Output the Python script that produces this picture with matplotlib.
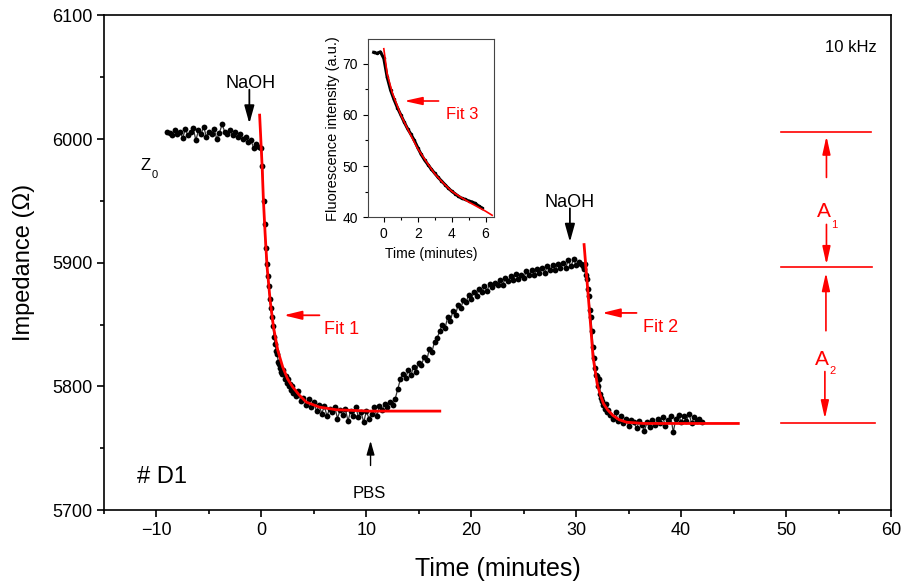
import numpy as np
import matplotlib
matplotlib.use("Agg")
import matplotlib.pyplot as plt
from matplotlib.ticker import MultipleLocator

plt.rcParams['font.family'] = ['Liberation Sans', 'DejaVu Sans']
plt.rcParams['mathtext.default'] = 'regular'

# =============================================================================
# Data
# =============================================================================

# impedance trace, in segments: (start time, step, values)
seg1_t0, seg1_dt = -9.0, 0.25
seg1_z = [6006, 6005, 6003, 6007, 6004, 6006, 6001, 6008, 6003, 6006, 6009, 5999,
          6007, 6004, 6010, 6002, 6006, 6004, 6008, 6000, 6005, 6012, 6006, 6004,
          6007, 6003, 6006, 6002, 6004, 6000, 6002, 5998, 5999, 5993, 5996, 5994]

seg2_t0, seg2_dt = 0.0, 0.1
seg2_z = [5993, 5978, 5950, 5931, 5912, 5899, 5889, 5881, 5871, 5863, 5856, 5849,
          5840, 5834, 5829, 5826, 5820, 5818, 5815, 5812, 5810, 5813, 5806, 5808,
          5803, 5806, 5800, 5802, 5797, 5800, 5795]

seg3_t0, seg3_dt = 3.25, 0.25
seg3_z = [5792, 5796, 5788, 5791, 5785, 5790, 5783, 5787, 5780, 5785, 5778, 5784,
          5776, 5782, 5779, 5783, 5774, 5781, 5777, 5782, 5772, 5780, 5776, 5783,
          5775, 5779, 5771, 5780, 5774, 5778, 5783, 5776, 5784, 5781, 5786, 5783,
          5787, 5785]

seg4_t0, seg4_dt = 12.75, 0.25
seg4_z = [5790, 5798, 5806, 5810, 5807, 5813, 5809, 5816, 5812, 5819, 5817, 5824,
          5821, 5830, 5828, 5836, 5839, 5845, 5850, 5847, 5856, 5853, 5861, 5858,
          5866, 5863, 5870, 5868, 5874, 5871, 5876, 5873, 5879, 5876, 5881, 5877,
          5883, 5880, 5884, 5882, 5886, 5882, 5888, 5885, 5889, 5886, 5891, 5887,
          5890, 5888, 5893, 5890, 5894, 5890, 5895, 5892, 5896, 5892, 5897, 5894,
          5898, 5894, 5899, 5896, 5900, 5896, 5902, 5897, 5903, 5898, 5901, 5899]

seg5_t0, seg5_dt = 30.6, 0.1
seg5_z = [5897, 5895, 5899, 5890, 5887, 5879, 5873, 5862, 5856, 5845, 5832, 5823,
          5815, 5809, 5808, 5800, 5806, 5794, 5791, 5788, 5785, 5782, 5786, 5779, 5781]

seg6_t0, seg6_dt = 33.25, 0.25
seg6_z = [5777, 5774, 5779, 5772, 5776, 5770, 5774, 5768, 5773, 5771, 5766, 5772,
          5769, 5764, 5771, 5767, 5773, 5769, 5774, 5770, 5775, 5768, 5773, 5776,
          5763, 5774, 5777, 5771, 5776, 5772, 5778, 5770, 5775, 5772, 5774, 5771]

# fitted curves
fit1_t = [-0.17, 0.07, 0.19, 0.35, 0.54, 0.83, 1.15, 1.56, 2.03, 2.5, 2.99, 3.6,
          4.27, 5.53, 7.13, 10.3, 17.0]
fit1_z = [6019.4, 5977.6, 5950.6, 5923.9, 5896.6, 5869.6, 5848.0, 5829.1, 5815.6,
          5806.0, 5799.4, 5793.0, 5787.3, 5783.2, 5781.1, 5780.0, 5780.0]

fit2_t = [30.75, 31.1, 31.36, 31.6, 32.0, 32.3, 32.6, 33.0, 33.5, 34.1, 34.8, 36.4, 45.45]
fit2_z = [5914.7, 5878, 5851, 5824, 5802, 5793, 5786, 5781, 5776.5, 5773, 5771, 5770, 5770]

# inset: fluorescence
fl_t0, fl_dt = -0.6, 0.2
fl_val = [72.2, 72.0, 72.3, 71.0, 67.3, 64.8, 63.0, 61.4, 60.0, 58.6, 57.3, 56.2,
          55.0, 53.6, 52.3, 51.2, 50.3, 49.4, 48.6, 47.8, 47.1, 46.4, 45.7, 45.1,
          44.6, 44.1, 43.7, 43.5, 43.2, 43.0, 42.7, 42.2, 41.8]

fit3_t = [0.0, 0.2, 0.5, 1.0, 1.5, 2.0, 2.5, 3.0, 3.5, 4.0, 4.5, 5.0, 5.5, 6.0, 6.39]
fit3_val = [72.9, 68.0, 64.3, 60.0, 56.6, 53.4, 50.9, 48.5, 46.7, 45.1, 44.0, 43.0,
            42.1, 41.2, 40.4]

# amplitude levels on the right
level_z = [6005.4, 5896.6, 5770.0]


def seg_time(t0, dt, vals):
    return t0 + dt * np.arange(len(vals))


segments = [(seg1_t0, seg1_dt, seg1_z), (seg2_t0, seg2_dt, seg2_z),
            (seg3_t0, seg3_dt, seg3_z), (seg4_t0, seg4_dt, seg4_z),
            (seg5_t0, seg5_dt, seg5_z), (seg6_t0, seg6_dt, seg6_z)]
t_all = np.concatenate([seg_time(a, b, c) for a, b, c in segments])
z_all = np.concatenate([np.array(c, dtype=float) for a, b, c in segments])

RED = '#ff0000'

# =============================================================================
# Main plot
# =============================================================================

fig = plt.figure(figsize=(9.03, 5.82), dpi=100)
ax = fig.add_axes([0.1152, 0.1237, 0.8715, 0.8497])

ax.plot(t_all, z_all, '-', color='#333333', lw=0.9, zorder=2)
ax.plot(t_all, z_all, 'o', color='black', ms=4.2, mew=0, zorder=3)
ax.plot(fit1_t, fit1_z, '-', color=RED, lw=2.0, zorder=4)
ax.plot(fit2_t, fit2_z, '-', color=RED, lw=2.0, zorder=4)

ax.set_xlim(-15, 60)
ax.set_ylim(5700, 6100)
ax.xaxis.set_major_locator(MultipleLocator(10))
ax.xaxis.set_minor_locator(MultipleLocator(5))
ax.yaxis.set_major_locator(MultipleLocator(100))
ax.yaxis.set_minor_locator(MultipleLocator(50))
ax.tick_params(which='both', direction='out', top=False, right=False,
               width=1.2, labelsize=13)
ax.tick_params(which='major', length=5)
ax.tick_params(which='minor', length=3)
for sp in ax.spines.values():
    sp.set_linewidth(1.2)

ax.set_xlabel('Time (minutes)', fontsize=18, labelpad=13)
ax.set_ylabel('Impedance (\u03a9)', fontsize=17, labelpad=12)


def arrow(a, tail, tip, color, lw=1.3, hl=0.9, hw=0.25):
    a.annotate('', xy=tip, xytext=tail,
               arrowprops=dict(arrowstyle='-|>,head_length=%g,head_width=%g' % (hl, hw),
                               color=color, lw=lw, shrinkA=0, shrinkB=0,
                               mutation_scale=12))


# event arrows
ax.text(-1.0, 6045, 'NaOH', ha='center', va='center', fontsize=13)
arrow(ax, (-1.15, 6040), (-1.15, 6012.6), 'black')
ax.text(29.4, 5948.6, 'NaOH', ha='center', va='center', fontsize=13)
arrow(ax, (29.4, 5944), (29.4, 5916.8), 'black')
ax.text(10.3, 5713.4, 'PBS', ha='center', va='center', fontsize=12)
arrow(ax, (10.4, 5736), (10.4, 5756), 'black', lw=1.0, hl=0.7, hw=0.2)

# fit labels
ax.text(7.6, 5845.7, 'Fit 1', ha='center', va='center', fontsize=13, color=RED)
arrow(ax, (5.53, 5857.5), (2.13, 5857.5), RED, lw=1.3, hl=0.9, hw=0.22)
ax.text(38.0, 5847.8, 'Fit 2', ha='center', va='center', fontsize=13, color=RED)
arrow(ax, (35.75, 5859.4), (32.47, 5859.4), RED, lw=1.3, hl=0.9, hw=0.22)

# other labels
ax.text(-11.07, 5979, 'Z', ha='center', va='center', fontsize=12)
ax.text(-10.2, 5971, '0', ha='center', va='center', fontsize=8)
ax.text(-9.45, 5727, '# D1', ha='center', va='center', fontsize=17)
ax.text(56.2, 6074.5, '10 kHz', ha='center', va='center', fontsize=12)

# amplitude markers
for lz, x1 in zip(level_z, [58.1, 58.2, 58.5]):
    ax.plot([49.5, x1], [lz, lz], '-', color=RED, lw=1.2)
arrow(ax, (53.85, 5969), (53.85, 6002.4), RED, lw=1.2, hw=0.2)
arrow(ax, (53.85, 5931), (53.85, 5898.5), RED, lw=1.2, hw=0.2)
arrow(ax, (53.8, 5845), (53.8, 5892), RED, lw=1.2, hw=0.2)
arrow(ax, (53.7, 5812), (53.7, 5773.8), RED, lw=1.2, hw=0.2)
ax.text(53.6, 5941.5, 'A', ha='center', va='center', fontsize=15, color=RED)
ax.text(54.6, 5930.8, '1', ha='center', va='center', fontsize=8, color=RED)
ax.text(53.4, 5822, 'A', ha='center', va='center', fontsize=15, color=RED)
ax.text(54.4, 5812.5, '2', ha='center', va='center', fontsize=8, color=RED)

# =============================================================================
# Inset
# =============================================================================

ins = fig.add_axes([0.4072, 0.6266, 0.1399, 0.3064])
fl_t = seg_time(fl_t0, fl_dt, fl_val)
ins.plot(fl_t, fl_val, '-', color='black', lw=2.2, zorder=2)
ins.plot(fl_t, fl_val, 'o', color='black', ms=2.5, mew=0, zorder=2)
ins.plot(fit3_t, fit3_val, '-', color=RED, lw=1.2, zorder=3)
ins.set_xlim(-0.95, 6.5)
ins.set_ylim(40, 74.8)
ins.xaxis.set_major_locator(MultipleLocator(2))
ins.xaxis.set_minor_locator(MultipleLocator(1))
ins.yaxis.set_major_locator(MultipleLocator(10))
ins.yaxis.set_minor_locator(MultipleLocator(5))
ins.tick_params(which='both', direction='out', top=False, right=False,
                labelsize=10, width=0.8)
ins.tick_params(which='major', length=3.5)
ins.tick_params(which='minor', length=2)
for sp in ins.spines.values():
    sp.set_linewidth(0.8)
    sp.set_color('#444444')
ins.set_xlabel('Time (minutes)', fontsize=10, labelpad=4)
ins.set_ylabel('Fluorescence intensity (a.u.)', fontsize=10.5, labelpad=2)
ins.text(4.63, 60.0, 'Fit 3', ha='center', va='center', fontsize=12, color=RED)
arrow(ins, (3.23, 62.7), (1.2, 62.7), RED, lw=1.2, hl=0.9, hw=0.2)

fig.savefig('out.png', dpi=100)
